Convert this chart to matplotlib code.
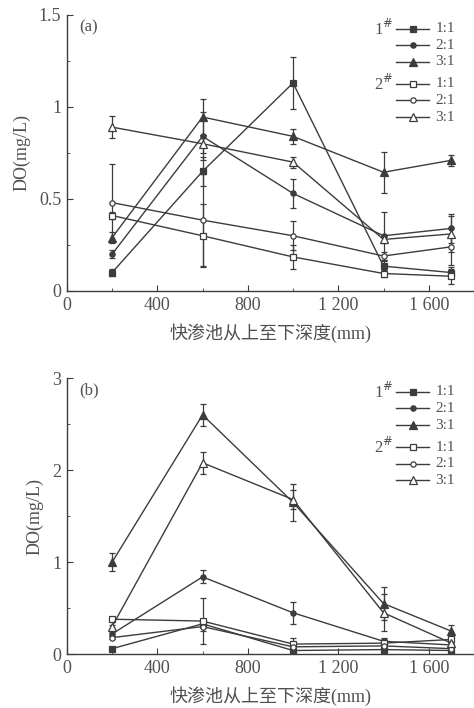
import matplotlib
matplotlib.use('Agg')
import matplotlib.pyplot as plt
from matplotlib.ticker import MultipleLocator, FixedLocator

plt.rcParams['font.family'] = ['Liberation Serif', 'Noto Sans CJK SC', 'DejaVu Sans']

# Dados
DEPTH = [200, 600, 1000, 1400, 1700]
RATIOS = ['1:1', '2:1', '3:1']

# (a)
a_1_11 = [0.10, 0.65, 1.13, 0.135, 0.10]
a_1_21 = [0.20, 0.84, 0.53, 0.30, 0.34]
a_1_31 = [0.29, 0.945, 0.84, 0.645, 0.71]
a_2_11 = [0.41, 0.30, 0.185, 0.095, 0.08]
a_2_21 = [0.48, 0.385, 0.30, 0.19, 0.24]
a_2_31 = [0.89, 0.80, 0.70, 0.28, 0.31]
a_err_1_11 = [0.02, 0.08, 0.14, 0.03, 0.03]
a_err_1_21 = [0.02, 0.13, 0.08, 0.13, 0.08]
a_err_1_31 = [0.03, 0.10, 0.04, 0.11, 0.03]
a_err_2_11 = [0.02, 0.17, 0.065, 0.02, 0.04]
a_err_2_21 = [0.21, 0.25, 0.08, 0.02, 0.10]
a_err_2_31 = [0.06, 0.05, 0.03, 0.02, 0.10]

# (b)
b_1_11 = [0.06, 0.33, 0.04, 0.05, 0.04]
b_1_21 = [0.22, 0.84, 0.45, 0.14, 0.10]
b_1_31 = [1.00, 2.60, 1.65, 0.55, 0.25]
b_2_11 = [0.38, 0.36, 0.11, 0.12, 0.16]
b_2_21 = [0.18, 0.30, 0.08, 0.09, 0.06]
b_2_31 = [0.30, 2.08, 1.68, 0.45, 0.12]
b_err_1_11 = [0.02, 0.05, 0.02, 0.02, 0.02]
b_err_1_21 = [0.02, 0.07, 0.12, 0.04, 0.03]
b_err_1_31 = [0.10, 0.12, 0.20, 0.18, 0.07]
b_err_2_11 = [0.02, 0.25, 0.07, 0.05, 0.04]
b_err_2_21 = [0.02, 0.05, 0.03, 0.03, 0.03]
b_err_2_31 = [0.02, 0.12, 0.10, 0.20, 0.05]

LINE_C = '#3c3c3c'
TEXT_C = '#505050'
MARKERS = [('s', LINE_C), ('o', LINE_C), ('^', LINE_C),
           ('s', 'white'), ('o', 'white'), ('^', 'white')]
MSIZE = [3.8, 3.8, 5.5, 3.8, 3.8, 5.5]


def draw_panel(ax, series, errors, ymax, ymajor, yminor, tag):
    for (m, fc), ms, y, e in zip(MARKERS, MSIZE, series, errors):
        ax.errorbar(DEPTH, y, yerr=e, color=LINE_C, lw=1.0, marker=m, ms=ms,
                    mfc=fc, mec=LINE_C, mew=0.9, capsize=2.5, elinewidth=0.9,
                    capthick=0.9)
    ax.set_xlim(0, 1800)
    ax.set_ylim(0, ymax)
    ax.spines['top'].set_visible(False)
    ax.spines['right'].set_visible(False)
    for s in ('left', 'bottom'):
        ax.spines[s].set_color(LINE_C)
        ax.spines[s].set_linewidth(1.0)
    ax.xaxis.set_major_locator(FixedLocator([0, 400, 800, 1200, 1600]))
    ax.set_xticklabels(['0', '400', '800', '1 200', '1 600'])
    ax.xaxis.set_minor_locator(MultipleLocator(200))
    ax.yaxis.set_major_locator(MultipleLocator(ymajor))
    ax.yaxis.set_minor_locator(MultipleLocator(yminor))
    ax.yaxis.set_major_formatter(matplotlib.ticker.FuncFormatter(lambda v, p: f'{v:g}'))
    ax.tick_params(which='both', direction='in', colors=LINE_C, labelcolor=TEXT_C,
                   labelsize=13)
    ax.tick_params(which='major', length=4, pad=4)
    ax.tick_params(which='minor', length=2.5)
    ax.set_xlabel('快渗池从上至下深度(mm)', fontsize=13, color=TEXT_C, labelpad=7)
    ax.set_ylabel('DO(mg/L)', fontsize=13, color=TEXT_C, labelpad=6)
    ax.text(0.03, 0.955, tag, transform=ax.transAxes, fontsize=12, color=TEXT_C,
            va='center', ha='left')

    # legenda manual
    rows = [0.95, 0.89, 0.83, 0.75, 0.69, 0.63]
    for i, ((m, fc), ms, yy) in enumerate(zip(MARKERS, MSIZE, rows)):
        ax.plot([0.808, 0.889], [yy, yy], transform=ax.transAxes, color=LINE_C,
                lw=1.0, clip_on=False)
        ax.plot([0.85], [yy], transform=ax.transAxes, marker=m, ms=ms, mfc=fc,
                mec=LINE_C, mew=0.9, clip_on=False, ls='none')
        ax.text(0.905, yy, RATIOS[i % 3], transform=ax.transAxes, fontsize=11,
                color=TEXT_C, va='center', ha='left')
    ax.text(0.755, rows[0], '1$^{\\#}$', transform=ax.transAxes, fontsize=12,
            color=TEXT_C, va='center', ha='left')
    ax.text(0.755, rows[3], '2$^{\\#}$', transform=ax.transAxes, fontsize=12,
            color=TEXT_C, va='center', ha='left')


fig = plt.figure(figsize=(4.74, 7.08), dpi=100)
ax_a = fig.add_axes([0.141, 0.589, 0.859, 0.390])
ax_b = fig.add_axes([0.141, 0.076, 0.859, 0.390])

draw_panel(ax_a,
           [a_1_11, a_1_21, a_1_31, a_2_11, a_2_21, a_2_31],
           [a_err_1_11, a_err_1_21, a_err_1_31, a_err_2_11, a_err_2_21, a_err_2_31],
           1.5, 0.5, 0.25, '(a)')
draw_panel(ax_b,
           [b_1_11, b_1_21, b_1_31, b_2_11, b_2_21, b_2_31],
           [b_err_1_11, b_err_1_21, b_err_1_31, b_err_2_11, b_err_2_21, b_err_2_31],
           3, 1, 0.5, '(b)')

fig.savefig('out.png', dpi=100)
